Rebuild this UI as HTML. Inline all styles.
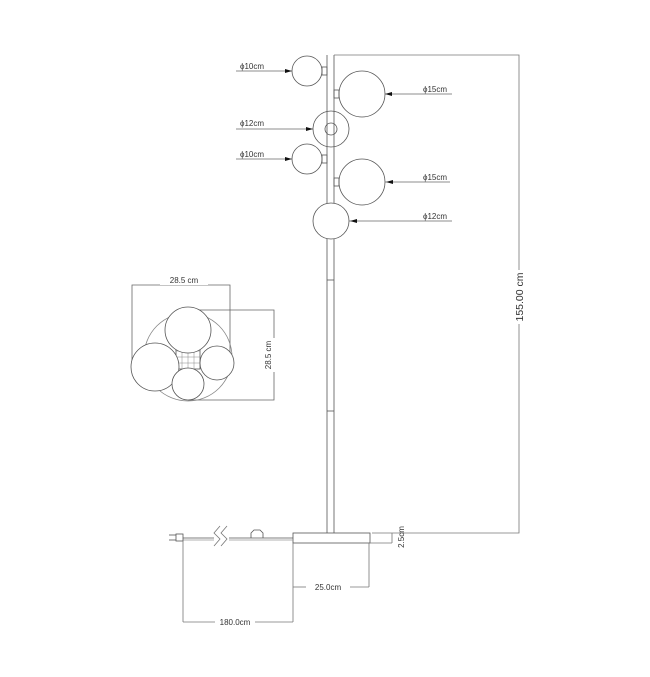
<!DOCTYPE html>
<html><head><style>html,body{margin:0;padding:0;background:#fff}svg{display:block}</style></head>
<body>
<svg width="650" height="677" viewBox="0 0 650 677" xmlns="http://www.w3.org/2000/svg" font-family="Liberation Sans, sans-serif" fill="none" stroke="#555" stroke-width="0.8">
<!-- pole -->
<line x1="327" y1="55" x2="327" y2="533"/><line x1="334" y1="55" x2="334" y2="533"/>
<line x1="327" y1="280" x2="334" y2="280"/><line x1="327" y1="411" x2="334" y2="411"/>
<!-- 155 frame -->
<polyline points="334,55 519,55 519,533 372,533" stroke="#777"/>
<!-- balls -->
<circle cx="307" cy="71" r="15"/><rect x="322" y="67" width="5" height="8"/>
<circle cx="362" cy="94" r="23"/><rect x="334" y="90" width="5" height="8"/>
<circle cx="331" cy="129" r="18"/><circle cx="331" cy="129" r="6"/>
<circle cx="307" cy="159" r="15"/><rect x="322" y="155" width="5" height="8"/>
<circle cx="362" cy="182" r="23"/><rect x="334" y="178" width="5" height="8"/>
<circle cx="331" cy="221" r="18" fill="#fff"/>
<!-- leaders -->
<g stroke="#666">
<line x1="236" y1="71" x2="292" y2="71"/><line x1="236" y1="129" x2="313" y2="129"/><line x1="236" y1="159" x2="292" y2="159"/>
<line x1="385" y1="94" x2="452" y2="94"/><line x1="385" y1="182" x2="450" y2="182"/><line x1="349" y1="221" x2="452" y2="221"/>
</g>
<g fill="#111" stroke="none">
<polygon points="292,71 285,69 285,73"/><polygon points="313,129 306,127 306,131"/><polygon points="292,159 285,157 285,161"/>
<polygon points="385,94 392,92 392,96"/><polygon points="386,182 393,180 393,184"/><polygon points="350,221 357,219 357,223"/>
</g>
<g fill="#333" stroke="none" font-size="8">
<text x="240" y="69">ϕ10cm</text><text x="240" y="126">ϕ12cm</text><text x="240" y="157">ϕ10cm</text>
<text x="423" y="92">ϕ15cm</text><text x="423" y="180">ϕ15cm</text><text x="423" y="219">ϕ12cm</text>
</g>
<!-- 155 label -->
<rect x="512" y="270" width="14" height="54" fill="#fff" stroke="none"/>
<text transform="translate(523,297) rotate(-90)" text-anchor="middle" font-size="10.5" fill="#333" stroke="none">155.00 cm</text>
<!-- top view -->
<g stroke="#666">
<polyline points="132,362 132,285 230,285 230,362"/>
<polyline points="188,310 274,310 274,400 188,400"/>
</g>
<rect x="160" y="276" width="48" height="9" fill="#fff" stroke="none"/>
<text x="184" y="283" text-anchor="middle" font-size="8" fill="#333" stroke="none">28.5 cm</text>
<rect x="264" y="338" width="14" height="34" fill="#fff" stroke="none"/>
<text transform="translate(271,355) rotate(-90)" text-anchor="middle" font-size="8" fill="#333" stroke="none">28.5 cm</text>
<circle cx="188" cy="357" r="44" stroke="#888"/>
<rect x="176" y="345" width="24" height="24" fill="#fff"/>
<g stroke="#888" stroke-width="0.5"><line x1="182" y1="345" x2="182" y2="369"/><line x1="188" y1="345" x2="188" y2="369"/><line x1="194" y1="345" x2="194" y2="369"/><line x1="176" y1="351" x2="200" y2="351"/><line x1="176" y1="357" x2="200" y2="357"/><line x1="176" y1="363" x2="200" y2="363"/></g>
<circle cx="188" cy="330" r="23" fill="#fff"/>
<circle cx="155" cy="367" r="24" fill="#fff"/>
<circle cx="217" cy="363" r="17" fill="#fff"/>
<circle cx="188" cy="384" r="16" fill="#fff"/>
<!-- base -->
<rect x="293" y="533" width="77" height="10"/>
<line x1="183" y1="538" x2="214" y2="538"/><line x1="229" y1="538" x2="293" y2="538"/>
<line x1="183" y1="540" x2="214" y2="540" stroke="#999"/><line x1="229" y1="540" x2="293" y2="540" stroke="#999"/>
<path d="M220 526 L214 533 L220 539 L214 546 M227 526 L221 533 L227 539 L221 546" stroke="#777"/>
<path d="M251 538 L251 533 L254 530 L260 530 L263 533 L263 538"/>
<rect x="176" y="534" width="7" height="7"/><line x1="169" y1="535" x2="176" y2="535"/><line x1="169" y1="540" x2="176" y2="540"/>
<!-- dims -->
<g stroke="#777">
<line x1="183" y1="541" x2="183" y2="622"/><line x1="293" y1="543" x2="293" y2="622"/>
<line x1="183" y1="622" x2="215" y2="622"/><line x1="255" y1="622" x2="293" y2="622"/>
<line x1="369" y1="543" x2="369" y2="587"/>
<line x1="293" y1="587" x2="306" y2="587"/><line x1="350" y1="587" x2="369" y2="587"/>
<line x1="370" y1="543" x2="392" y2="543"/><line x1="392" y1="533" x2="392" y2="543"/>
</g>
<g fill="#333" stroke="none" font-size="8">
<text x="235" y="625" text-anchor="middle">180.0cm</text>
<text x="328" y="590" text-anchor="middle">25.0cm</text>
<text transform="translate(404,537) rotate(-90)" text-anchor="middle">2.5cm</text>
</g>
</svg>
</body></html>
